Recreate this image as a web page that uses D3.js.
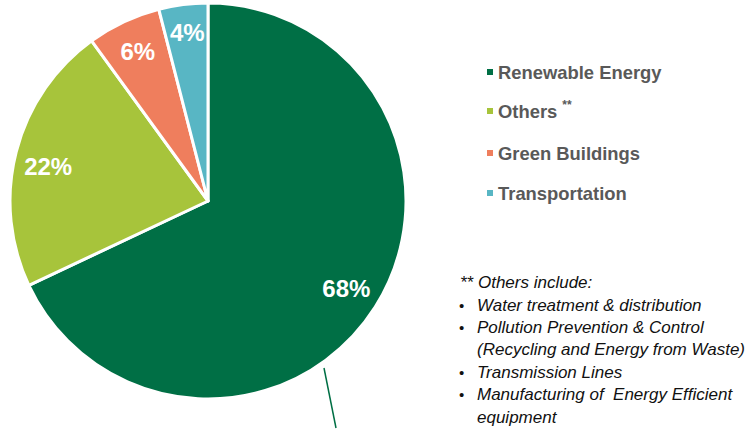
<!DOCTYPE html>
<html><head><meta charset="utf-8">
<script src="https://cdn.jsdelivr.net/npm/d3@7"></script>
<style>body{margin:0;background:#fff}svg{display:block}text{white-space:pre}</style>
</head><body><svg id="c" width="748" height="429"></svg>
<script>
const categories = ["Renewable Energy", "Others", "Green Buildings", "Transportation"];
const values = [68, 22, 6, 4];
const colors = ["#006F45", "#A7C43B", "#EF7E5D", "#58B6C4"];
const noteTitle = "** Others include:";
const noteItems = [
  ["Water treatment & distribution"],
  ["Pollution Prevention & Control", "(Recycling and Energy from Waste)"],
  ["Transmission Lines"],
  ["Manufacturing of  Energy Efficient", "equipment"]
];

const svg = d3.select("#c");
const font = "'Liberation Sans', Arial, sans-serif";
const cx = 208, cy = 201, R = 198;
const g = svg.append("g").attr("transform", `translate(${cx},${cy})`);
const pie = d3.pie().sort(null).value(d => d.v);
const data = pie(values.map((v, i) => ({v, i})));
const arc = d3.arc().innerRadius(0).outerRadius(R);
const labelArc = d3.arc().innerRadius(165).outerRadius(165);
const nudge = [[-1, -1], [0, 7], [0, 0], [0, -5]];

g.selectAll("path").data(data).join("path")
  .attr("d", arc).attr("fill", d => colors[d.data.i])
  .attr("stroke", "#fff").attr("stroke-width", 3).attr("stroke-linejoin", "round");

g.selectAll("text.lbl").data(data).join("text").attr("class", "lbl")
  .attr("x", d => labelArc.centroid(d)[0] + nudge[d.data.i][0])
  .attr("y", d => labelArc.centroid(d)[1] + nudge[d.data.i][1])
  .attr("text-anchor", "middle").attr("dominant-baseline", "central")
  .attr("font-family", font).attr("font-weight", "bold")
  .attr("font-size", 24).attr("fill", "#fff")
  .text(d => d.data.v + "%");

// leader line below the renewable slice
svg.append("line")
  .attr("x1", cx + 116).attr("y1", cy + 167)
  .attr("x2", cx + 128).attr("y2", cy + 227)
  .attr("stroke", colors[0]).attr("stroke-width", 1.5);

// legend
const leg = svg.append("g").attr("font-family", font);
const legY = [72, 111, 153, 193];
categories.forEach((c, i) => {
  leg.append("rect").attr("x", 487).attr("y", legY[i] - 3).attr("width", 6).attr("height", 6).attr("fill", colors[i]);
  const t = leg.append("text").attr("x", 498).attr("y", legY[i]).attr("dominant-baseline", "central")
    .attr("font-size", 18.4).attr("font-weight", "bold").attr("fill", "#595959").text(c);
  if (i === 1) {
    t.append("tspan").attr("dx", 5).attr("dy", -6).attr("font-size", 12).text("**");
  }
});

// notes
const nt = svg.append("g").attr("font-family", font)
  .attr("font-style", "italic").attr("font-size", 17).attr("fill", "#111");
nt.append("text").attr("x", 460).attr("y", 288).text(noteTitle);
let y = 310.5;
noteItems.forEach(item => {
  nt.append("text").attr("x", 459).attr("y", y).attr("font-style", "normal").attr("font-size", 15).text("•");
  item.forEach(line => {
    nt.append("text").attr("x", 477).attr("y", y).text(line);
    y += 22.4;
  });
});
</script></body></html>
